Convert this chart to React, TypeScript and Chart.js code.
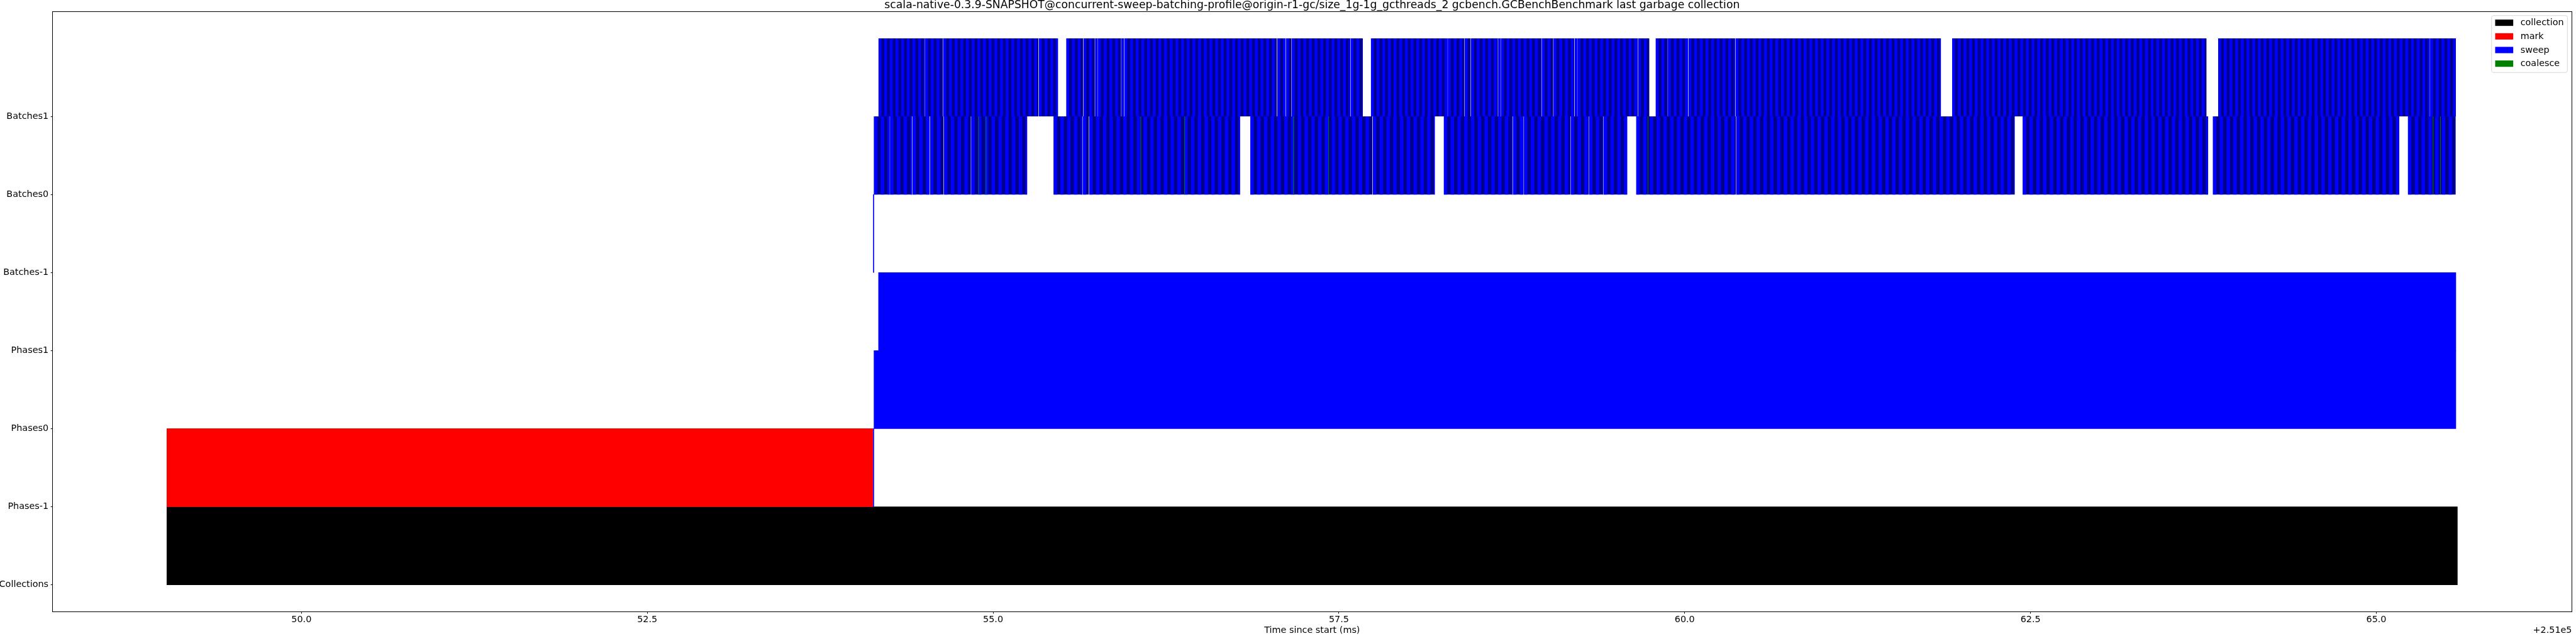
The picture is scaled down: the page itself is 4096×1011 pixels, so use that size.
import React, { useEffect, useRef } from 'react';
import { Chart, registerables } from 'chart.js';

Chart.register(...registerables);

// ---------------- data (times in ms, relative to the +2.51e5 offset) ----------------
const TITLE =
  'scala-native-0.3.9-SNAPSHOT@concurrent-sweep-batching-profile@origin-r1-gc/size_1g-1g_gcthreads_2 gcbench.GCBenchBenchmark last garbage collection';
const X_LABEL = 'Time since start (ms)';
const X_OFFSET_LABEL = '+2.51e5';

const ROW_LABELS = ['Collections', 'Phases-1', 'Phases0', 'Phases1', 'Batches-1', 'Batches0', 'Batches1'];
const ROW_VALUES = [0, 1, 2, 3, 4, 5, 6];
const X_TICKS = [50, 52.5, 55, 57.5, 60, 62.5, 65];
const X_MIN = 48.199;
const X_MAX = 66.414;
const Y_MIN = -0.35;
const Y_MAX = 7.35;

const LEGEND_LABELS = ['collection', 'mark', 'sweep', 'coalesce'];
const LEGEND_COLORS = ['#000000', '#ff0000', '#0000ff', '#008000'];

const COLLECTION_BARS = [[49.027, 65.586]];
const MARK_BARS = [[49.027, 54.131]];
const SWEEP_PHASES_M1 = [[54.134, 54.137]];
const SWEEP_PHASES_0 = [[54.139, 65.575]];
const SWEEP_PHASES_1 = [[54.172, 65.575]];
const SWEEP_BATCHES_M1 = [[54.134, 54.137]];

const BATCHES0_RUNS = [
  [54.139, 55.246],
  [55.438, 56.785],
  [56.86, 58.193],
  [58.259, 59.584],
  [59.65, 62.385],
  [62.444, 63.784],
  [63.819, 65.166],
  [65.229, 65.573],
];
const BATCHES0_SPLITS = [
  54.254, 54.416, 54.543, 54.644, 54.841, 55.647, 55.694, 57.744, 58.757, 58.837, 59.175, 59.307, 59.413, 60.371,
];
const BATCHES0_STRIPE = 0.0245;

const BATCHES1_RUNS = [
  [54.172, 55.469],
  [55.53, 57.673],
  [57.732, 59.744],
  [59.791, 61.852],
  [61.934, 63.772],
  [63.857, 65.575],
];
const BATCHES1_SPLITS = [
  54.508, 54.639, 55.33, 55.652, 55.737, 55.758, 55.927, 55.948, 57.053, 57.116, 57.159, 57.584, 58.287, 58.409,
  58.454, 58.651, 58.67, 58.966, 59.051, 59.203, 59.224, 59.662, 59.878, 60.026, 60.367, 65.388,
];
const BATCHES1_STRIPE = 0.0205;

const COALESCE_BATCHES0 = [54.893, 54.947, 56.066, 56.383, 57.17, 57.424, 59.732, 65.408, 65.461];
const COALESCE_WIDTH = 0.003;
const SPLIT_GAP = 0.0036;

// ---------------- helpers ----------------
function buildGroups(runs: number[][], splits: number[], gap: number) {
  const groups: number[][] = [];
  for (const [s, e] of runs) {
    const cuts = splits.filter((v) => v > s && v < e).sort((a, b) => a - b);
    let cur = s;
    for (const c of cuts) {
      groups.push([cur, c - gap / 2]);
      cur = c + gap / 2;
    }
    groups.push([cur, e]);
  }
  return groups;
}

function buildStripes(groups: number[][], w: number) {
  const out: number[][] = [];
  for (const [s, e] of groups) {
    for (let t = s; t < e - 1e-9; t += 2 * w) out.push([t, Math.min(t + w, e)]);
  }
  return out;
}

function toPoints(bars: number[][], row: number) {
  return bars.map(([a, b]) => ({ x: [a, b], y: row + 0.5 }));
}

const S = 0.517;
const FS = 27.78 * S; // 20pt @ 100dpi, scaled
const TITLE_FS = 33.33 * S; // 24pt @ 100dpi, scaled
const FONT = 'DejaVu Sans';

const overlayPlugin = {
  id: 'overlay',
  afterDatasetsDraw(chart: any) {
    const { ctx, chartArea } = chart;
    ctx.save();
    ctx.strokeStyle = '#000';
    ctx.lineWidth = 1;
    const l = Math.round(chartArea.left) + 0.5;
    const t = Math.round(chartArea.top) + 0.5;
    const r = Math.round(chartArea.right) - 0.5;
    const b = Math.round(chartArea.bottom) - 0.5;
    ctx.strokeRect(l, t, r - l, b - t);
    ctx.restore();
  },
  afterDraw(chart: any) {
    const { ctx, chartArea } = chart;
    const cx = (chartArea.left + chartArea.right) / 2;
    ctx.save();
    ctx.fillStyle = '#000';
    ctx.textBaseline = 'alphabetic';
    // title
    ctx.font = `${TITLE_FS}px "${FONT}"`;
    ctx.textAlign = 'center';
    ctx.fillText(TITLE, cx, 12.8);
    // x axis label
    ctx.font = `${FS}px "${FONT}"`;
    ctx.fillText(X_LABEL, cx, 1005.5);
    // offset text
    ctx.textAlign = 'right';
    ctx.fillText(X_OFFSET_LABEL, chartArea.right, 1005.5);

    // legend
    const pad = 0.4 * FS;
    const swW = 2 * FS;
    const swH = 0.7 * FS;
    const textPad = 0.8 * FS;
    const rowStep = 1.51 * FS;
    let maxW = 0;
    for (const lbl of LEGEND_LABELS) maxW = Math.max(maxW, ctx.measureText(lbl).width);
    const boxW = pad + swW + textPad + maxW + pad;
    const boxH = 6.3 * FS;
    const boxR = chartArea.right - 0.5 * FS;
    const boxL = boxR - boxW;
    const boxT = chartArea.top + 0.5 * FS;
    ctx.beginPath();
    const rad = 3;
    ctx.moveTo(boxL + rad, boxT);
    ctx.arcTo(boxR, boxT, boxR, boxT + boxH, rad);
    ctx.arcTo(boxR, boxT + boxH, boxL, boxT + boxH, rad);
    ctx.arcTo(boxL, boxT + boxH, boxL, boxT, rad);
    ctx.arcTo(boxL, boxT, boxR, boxT, rad);
    ctx.closePath();
    ctx.fillStyle = 'rgba(255,255,255,0.8)';
    ctx.fill();
    ctx.strokeStyle = '#d6d6d6';
    ctx.lineWidth = 1;
    ctx.stroke();
    ctx.textAlign = 'left';
    ctx.textBaseline = 'middle';
    LEGEND_LABELS.forEach((lbl, i) => {
      const cy = boxT + 0.79 * FS + i * rowStep;
      ctx.fillStyle = LEGEND_COLORS[i];
      ctx.fillRect(boxL + pad, cy - swH / 2, swW, swH);
      ctx.fillStyle = '#000';
      ctx.fillText(lbl, boxL + pad + swW + textPad, cy + 0.5);
    });
    ctx.restore();
  },
};

export default function App() {
  const ref = useRef<HTMLCanvasElement | null>(null);

  useEffect(() => {
    if (!ref.current) return;
    const b0Groups = buildGroups(BATCHES0_RUNS, BATCHES0_SPLITS, SPLIT_GAP);
    const b1Groups = buildGroups(BATCHES1_RUNS, BATCHES1_SPLITS, SPLIT_GAP);
    const b0Stripes = buildStripes(b0Groups, BATCHES0_STRIPE);
    const b1Stripes = buildStripes(b1Groups, BATCHES1_STRIPE);
    const coalesce = COALESCE_BATCHES0.map((t) => [t, t + COALESCE_WIDTH]);

    const common = { grouped: false, barPercentage: 1, categoryPercentage: 1, borderWidth: 0 };

    const chart = new Chart(ref.current, {
      type: 'bar',
      data: {
        datasets: [
          { ...common, label: 'coalesce', data: toPoints(coalesce, 5), backgroundColor: '#008000', minBarLength: 1, inflateAmount: 0 },
          {
            ...common,
            label: 'sweep stripes',
            data: [...toPoints(b0Stripes, 5), ...toPoints(b1Stripes, 6)],
            backgroundColor: '#0000ff',
            inflateAmount: 0,
          },
          {
            ...common,
            label: 'sweep batches',
            data: [...toPoints(b0Groups, 5), ...toPoints(b1Groups, 6)],
            backgroundColor: '#00008b',
            inflateAmount: 0,
          },
          {
            ...common,
            label: 'sweep',
            data: [
              ...toPoints(SWEEP_PHASES_M1, 1),
              ...toPoints(SWEEP_PHASES_0, 2),
              ...toPoints(SWEEP_PHASES_1, 3),
              ...toPoints(SWEEP_BATCHES_M1, 4),
            ],
            backgroundColor: '#0000ff',
            minBarLength: 1,
          },
          { ...common, label: 'mark', data: toPoints(MARK_BARS, 1), backgroundColor: '#ff0000' },
          { ...common, label: 'collection', data: toPoints(COLLECTION_BARS, 0), backgroundColor: '#000000' },
        ] as any,
      },
      options: {
        indexAxis: 'y',
        responsive: false,
        animation: false,
        devicePixelRatio: 1,
        layout: { padding: { top: 17.6, right: 6.5, bottom: 0, left: 0 } },
        plugins: {
          legend: { display: false },
          title: { display: false },
          tooltip: { enabled: false },
        },
        scales: {
          x: {
            type: 'linear',
            position: 'bottom',
            min: X_MIN,
            max: X_MAX,
            beginAtZero: false,
            offset: false,
            afterBuildTicks: (s: any) => {
              s.ticks = X_TICKS.map((v) => ({ value: v }));
            },
            afterFit: (s: any) => {
              s.height = 38;
            },
            ticks: {
              autoSkip: false,
              maxRotation: 0,
              minRotation: 0,
              padding: 0.8,
              color: '#000',
              font: { family: FONT, size: FS },
              callback: (v: any) => Number(v).toFixed(1),
            },
            grid: {
              drawOnChartArea: false,
              drawTicks: true,
              tickLength: 2.5,
              tickColor: '#000',
              color: '#000',
              lineWidth: 1,
              offset: false,
            },
            border: { display: false },
          },
          y: {
            type: 'linear',
            position: 'left',
            min: Y_MIN,
            max: Y_MAX,
            beginAtZero: false,
            offset: false,
            afterBuildTicks: (s: any) => {
              s.ticks = ROW_VALUES.map((v) => ({ value: v }));
            },
            afterFit: (s: any) => {
              s.width = 83.2;
            },
            ticks: {
              autoSkip: false,
              padding: 3.6,
              color: '#000',
              font: { family: FONT, size: FS },
              callback: (v: any) => ROW_LABELS[ROW_VALUES.indexOf(Number(v))] ?? '',
            },
            grid: {
              drawOnChartArea: false,
              drawTicks: true,
              tickLength: 2.5,
              tickColor: '#000',
              color: '#000',
              lineWidth: 1,
              offset: false,
            },
            border: { display: false },
          },
        },
      } as any,
      plugins: [overlayPlugin],
    });
    return () => chart.destroy();
  }, []);

  return (
    <div style={{ position: 'absolute', left: 0, top: 0, width: 4096, height: 1011, background: '#fff' }}>
      <canvas ref={ref} width={4096} height={1011} style={{ display: 'block', width: 4096, height: 1011 }} />
    </div>
  );
}
